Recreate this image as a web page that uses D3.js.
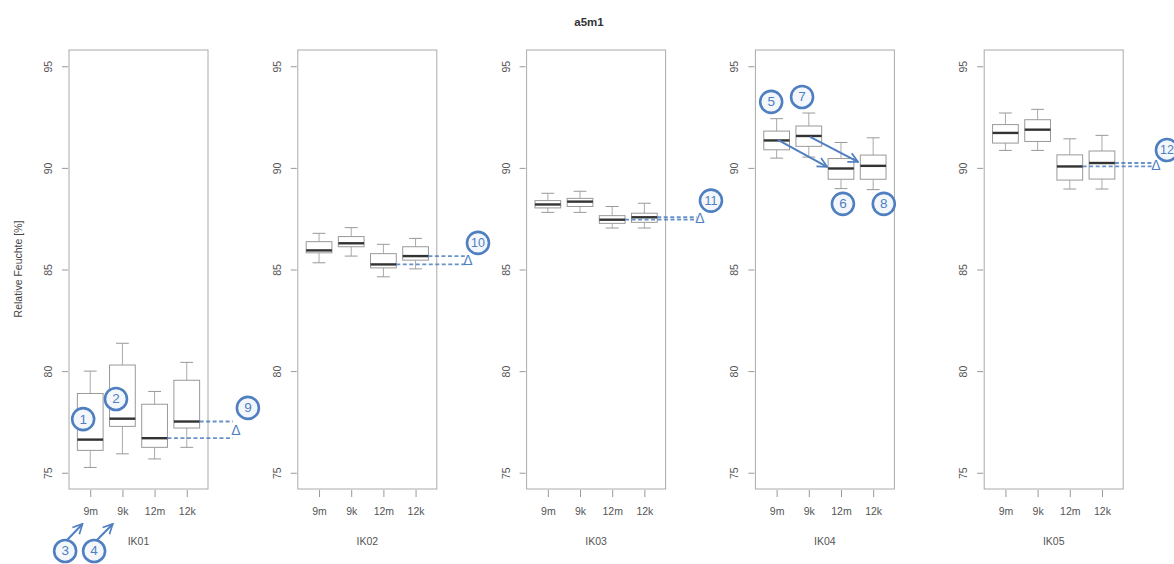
<!DOCTYPE html>
<html>
<head>
<meta charset="utf-8">
<script src="https://cdn.jsdelivr.net/npm/d3@7"></script>
<style>
  html, body { margin: 0; padding: 0; background: #fff; }
  svg { display: block; font-family: "Liberation Sans", Arial, sans-serif; }
</style>
</head>
<body>
<svg id="chart" width="1174" height="564"></svg>
<script>
// Relative humidity per measuring point (IK01..IK05), grouped by sensor position
const chartTitle = "a5m1";
const yLabel = "Relative Feuchte [%]";
const panels = ["IK01", "IK02", "IK03", "IK04", "IK05"];
const groups = ["9m", "9k", "12m", "12k"];
const yTicks = [75, 80, 85, 90, 95];

// five-number summaries per panel: [lower whisker, Q1, median, Q3, upper whisker]
const statsIK01 = [[75.26, 76.10, 76.63, 78.90, 80.00], [75.93, 77.28, 77.66, 80.30, 81.37],
                   [75.68, 76.25, 76.70, 78.37, 79.00], [76.25, 77.20, 77.52, 79.55, 80.43]];
const statsIK02 = [[85.33, 85.82, 85.94, 86.37, 86.78], [85.66, 86.12, 86.29, 86.62, 87.06],
                   [84.64, 85.08, 85.25, 85.78, 86.24], [85.03, 85.46, 85.66, 86.12, 86.53]];
const statsIK03 = [[87.81, 88.03, 88.20, 88.39, 88.75], [87.81, 88.10, 88.34, 88.50, 88.85],
                   [87.04, 87.27, 87.45, 87.65, 88.10], [87.04, 87.32, 87.57, 87.77, 88.26]];
const statsIK04 = [[90.48, 90.89, 91.35, 91.81, 92.42], [90.53, 91.06, 91.57, 92.06, 92.70],
                   [88.98, 89.44, 89.97, 90.46, 91.25], [88.93, 89.44, 90.10, 90.63, 91.48]];
const statsIK05 = [[90.86, 91.22, 91.72, 92.13, 92.70], [90.86, 91.30, 91.88, 92.37, 92.88],
                   [88.96, 89.40, 90.07, 90.64, 91.43], [88.96, 89.45, 90.24, 90.83, 91.60]];
const panelStats = [statsIK01, statsIK02, statsIK03, statsIK04, statsIK05];

// numbered markers: panel index, x in group units, y in % rH
const markers = [
  { p: 0, n: "1", x: 0.78, y: 77.64 }, { p: 0, n: "2", x: 1.80, y: 78.63 },
  { p: 0, n: "3", x: 0.22, y: 71.15 }, { p: 0, n: "4", x: 1.12, y: 71.15 },
  { p: 0, n: "9", x: 5.90, y: 78.19 }, { p: 1, n: "10", x: 5.94, y: 86.31 },
  { p: 2, n: "11", x: 6.07, y: 88.39 }, { p: 3, n: "5", x: 0.83, y: 93.25 },
  { p: 3, n: "7", x: 1.79, y: 93.49 }, { p: 3, n: "6", x: 3.06, y: 88.23 },
  { p: 3, n: "8", x: 4.33, y: 88.23 }, { p: 4, n: "12", x: 6.02, y: 90.88 }
];
// median comparisons 12m vs 12k, ending at a delta sign
const deltas = [ { p: 0, x: 5.53 }, { p: 1, x: 5.63 }, { p: 2, x: 5.73 }, { p: 4, x: 5.68 } ];
// arrows: panel, from (x1,y1) to (x2,y2) in group units / % rH
const arrows = [
  { p: 0, x1: 0.28, y1: 71.69, x2: 0.76, y2: 72.48 },
  { p: 0, x1: 1.21, y1: 71.69, x2: 1.70, y2: 72.48 },
  { p: 3, x1: 1.04, y1: 91.38, x2: 2.57, y2: 90.05 },
  { p: 3, x1: 2.04, y1: 91.52, x2: 3.53, y2: 90.29 }
];

const svg = d3.select("#chart");
const blue = "#4f7fc0";
const firstLeft = 69, panelStep = 228.8, panelW = 139, plotTop = 50, plotBottom = 489;

const x = d3.scaleLinear().domain([0.34, 4.66]).range([0, panelW]);
const y = d3.scaleLinear().domain([74.2, 95.8]).range([plotBottom, plotTop]);

svg.append("text").attr("x", 589).attr("y", 26).attr("text-anchor", "middle")
  .attr("font-size", 11.5).attr("font-weight", "bold").attr("fill", "#333").text(chartTitle);

svg.append("text").attr("transform", "translate(22,269) rotate(-90)")
  .attr("text-anchor", "middle").attr("font-size", 10.5).attr("fill", "#444").text(yLabel);

const defs = svg.append("defs");
defs.append("marker").attr("id", "head").attr("viewBox", "0 0 10 10")
  .attr("refX", 9).attr("refY", 5).attr("markerWidth", 6).attr("markerHeight", 6)
  .attr("markerUnits", "strokeWidth").attr("orient", "auto")
  .append("path").attr("d", "M1,1 L9,5 L1,9").attr("fill", "none")
  .attr("stroke", blue).attr("stroke-width", 1.4);

const panelG = panels.map((name, i) => {
  const g = svg.append("g").attr("transform", `translate(${firstLeft + i * panelStep},0)`);
  g.append("rect").attr("x", 0).attr("y", plotTop).attr("width", panelW).attr("height", plotBottom - plotTop)
    .attr("fill", "none").attr("stroke", "#aaa").attr("stroke-width", 1);

  // y axis, labels rotated parallel to the axis
  const ya = g.append("g").attr("transform", "translate(-1,0)")
    .call(d3.axisLeft(y).tickValues(yTicks).tickSize(6).tickFormat(d3.format("d")));
  ya.select(".domain").remove();
  ya.selectAll("line").attr("stroke", "#999");
  ya.selectAll(".tick text").attr("fill", "#555").attr("font-size", 10.5)
    .attr("x", null).attr("y", null).attr("dy", null)
    .attr("text-anchor", "middle").attr("dominant-baseline", "central")
    .attr("transform", "translate(-20,0) rotate(-90)");

  // x axis
  const xa = g.append("g").attr("transform", `translate(0,${plotBottom + 1})`)
    .call(d3.axisBottom(x).tickValues([1, 2, 3, 4]).tickSize(7)
      .tickFormat(d => groups[d - 1]));
  xa.select(".domain").remove();
  xa.selectAll("line").attr("stroke", "#999");
  xa.selectAll("text").attr("fill", "#555").attr("font-size", 10.5).attr("y", 18);

  g.append("text").attr("x", panelW / 2).attr("y", 545).attr("text-anchor", "middle")
    .attr("font-size", 10.5).attr("fill", "#555").text(name);

  // boxes
  const stats = panelStats[i];
  const hw = 0.4, cap = 0.2;
  stats.forEach((s, k) => {
    const c = k + 1;
    const bg = g.append("g");
    bg.append("line").attr("x1", x(c)).attr("x2", x(c)).attr("y1", y(s[0])).attr("y2", y(s[1]))
      .attr("stroke", "#aaa");
    bg.append("line").attr("x1", x(c)).attr("x2", x(c)).attr("y1", y(s[3])).attr("y2", y(s[4]))
      .attr("stroke", "#aaa");
    [s[0], s[4]].forEach(v => bg.append("line")
      .attr("x1", x(c - cap)).attr("x2", x(c + cap)).attr("y1", y(v)).attr("y2", y(v))
      .attr("stroke", "#999"));
    bg.append("rect").attr("x", x(c - hw)).attr("width", x(c + hw) - x(c - hw))
      .attr("y", y(s[3])).attr("height", y(s[1]) - y(s[3]))
      .attr("fill", "#fff").attr("stroke", "#999");
    bg.append("line").attr("x1", x(c - hw)).attr("x2", x(c + hw)).attr("y1", y(s[2])).attr("y2", y(s[2]))
      .attr("stroke", "#333").attr("stroke-width", 2.4);
  });
  return g;
});

// 12m / 12k median comparison lines with delta sign
deltas.forEach(d => {
  const g = panelG[d.p];
  const s = panelStats[d.p];
  const m3 = s[2][2], m4 = s[3][2];
  [[3, m3], [4, m4]].forEach(([c, m]) => {
    g.append("line").attr("x1", x(c + 0.4)).attr("x2", x(d.x - 0.1)).attr("y1", y(m)).attr("y2", y(m))
      .attr("stroke", blue).attr("stroke-width", 1.8).attr("stroke-dasharray", "4,2.5").attr("opacity", 0.85);
  });
  g.append("text").attr("x", x(d.x)).attr("y", y((m3 + m4) / 2)).attr("text-anchor", "middle")
    .attr("dominant-baseline", "central").attr("font-size", 14).attr("fill", blue).text("Δ");
});

arrows.forEach(a => {
  panelG[a.p].append("line").attr("x1", x(a.x1)).attr("y1", y(a.y1)).attr("x2", x(a.x2)).attr("y2", y(a.y2))
    .attr("stroke", blue).attr("stroke-width", 2).attr("marker-end", "url(#head)");
});

markers.forEach(m => {
  const g = panelG[m.p].append("g").attr("transform", `translate(${x(m.x)},${y(m.y)})`);
  g.append("circle").attr("r", 11).attr("fill", "#f3f7fc").attr("stroke", blue).attr("stroke-width", 2.6);
  g.append("text").attr("text-anchor", "middle").attr("dominant-baseline", "central")
    .attr("font-size", m.n.length > 1 ? 12.5 : 13.5).attr("fill", blue).text(m.n);
});
</script>
</body>
</html>
